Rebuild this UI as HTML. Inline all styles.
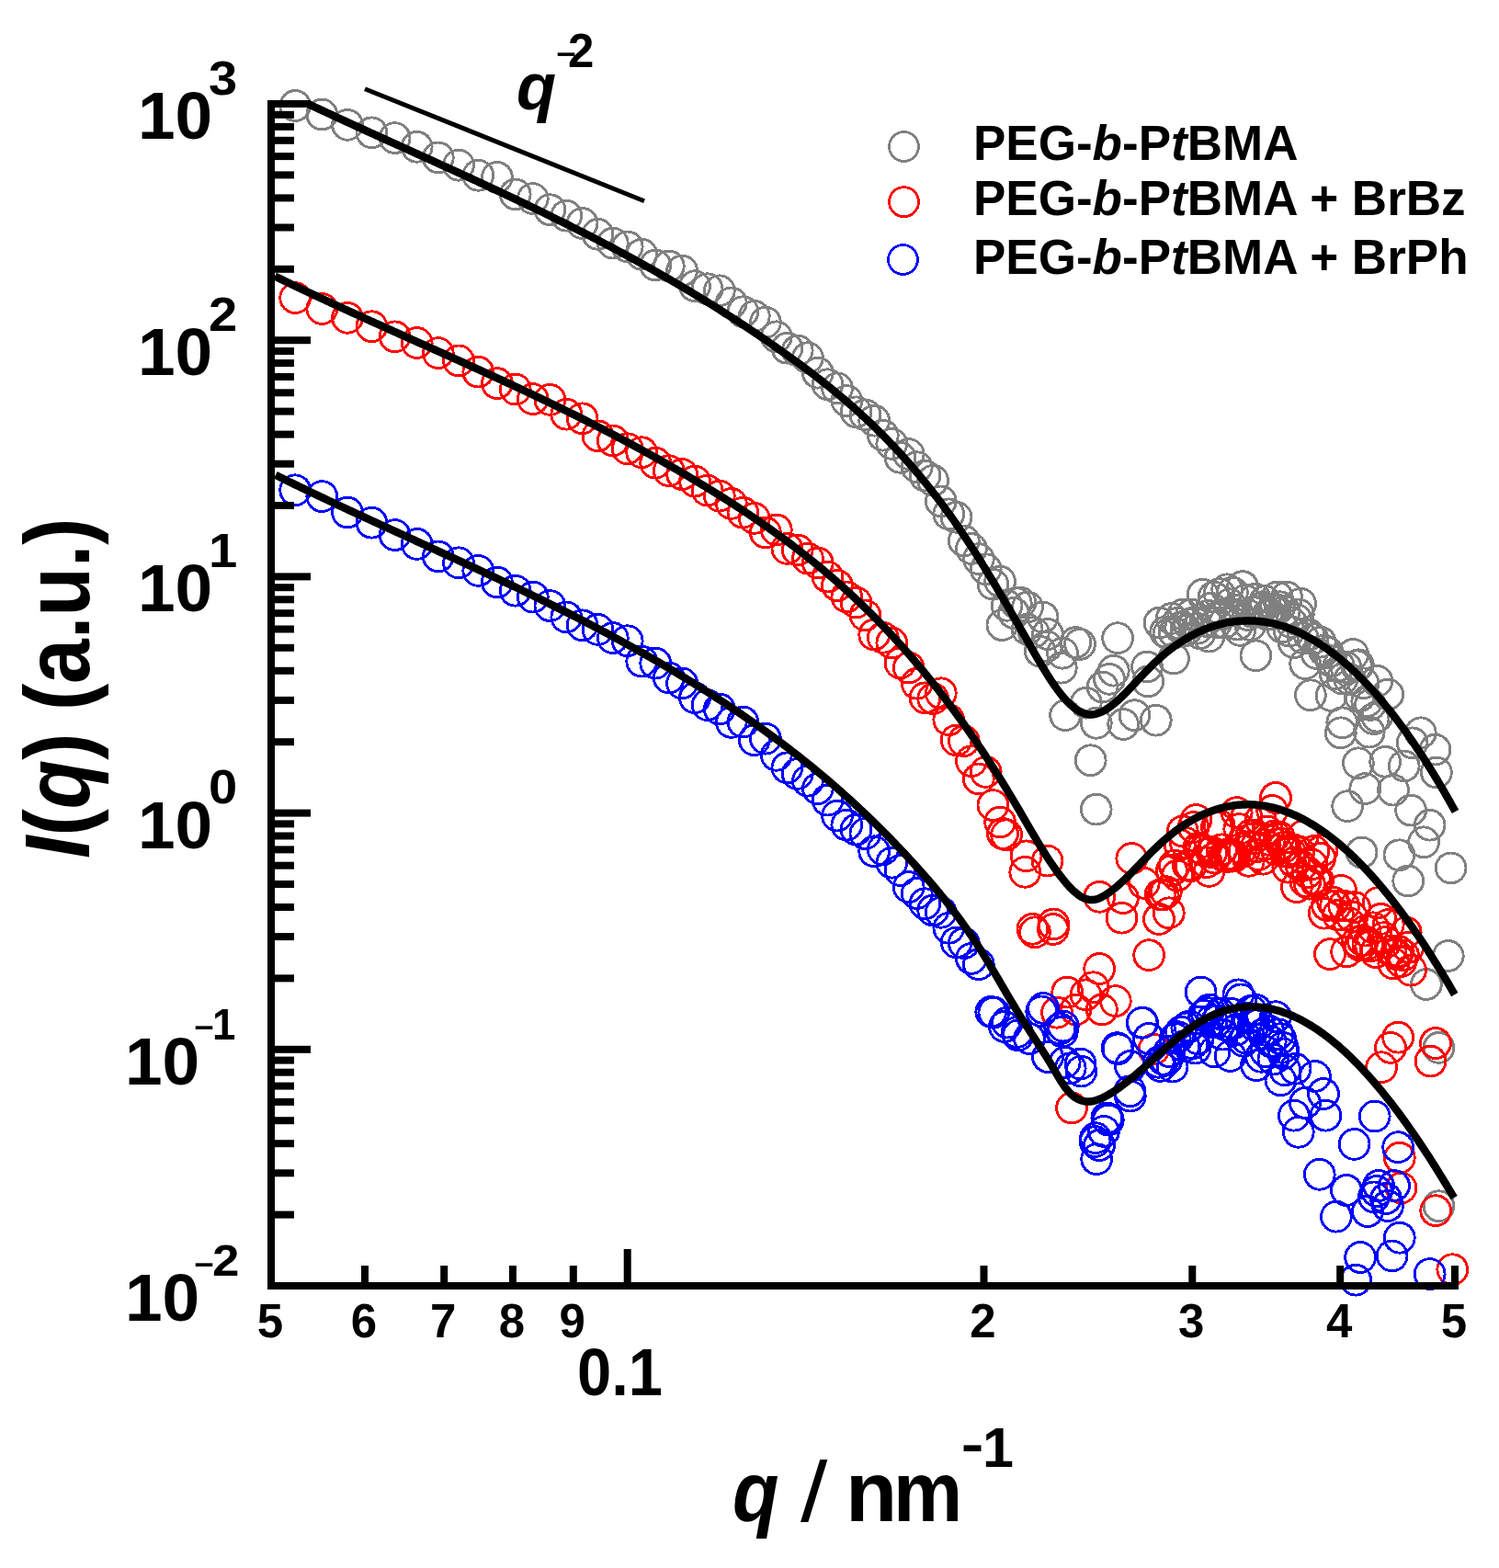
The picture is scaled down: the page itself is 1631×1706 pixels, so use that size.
<!DOCTYPE html>
<html><head><meta charset="utf-8"><title>SAXS plot</title>
<style>html,body{margin:0;padding:0;background:#fff;overflow:hidden}svg{display:block}</style>
</head><body>
<svg xmlns="http://www.w3.org/2000/svg" width="1631" height="1706" viewBox="0 0 1631 1706">
<rect width="1631" height="1706" fill="#fff"/>
<g fill="none" stroke="#808080" stroke-width="2.9" shape-rendering="crispEdges"><circle cx="321.2" cy="115.0" r="16.4"/><circle cx="350.3" cy="124.5" r="16.4"/><circle cx="378.0" cy="135.8" r="16.4"/><circle cx="404.4" cy="144.3" r="16.4"/><circle cx="429.6" cy="150.1" r="16.4"/><circle cx="453.7" cy="159.8" r="16.4"/><circle cx="476.8" cy="171.4" r="16.4"/><circle cx="499.0" cy="179.7" r="16.4"/><circle cx="520.3" cy="190.8" r="16.4"/><circle cx="540.9" cy="192.9" r="16.4"/><circle cx="560.7" cy="211.4" r="16.4"/><circle cx="579.8" cy="216.1" r="16.4"/><circle cx="598.4" cy="228.2" r="16.4"/><circle cx="616.3" cy="234.7" r="16.4"/><circle cx="633.6" cy="243.0" r="16.4"/><circle cx="650.5" cy="254.8" r="16.4"/><circle cx="666.8" cy="264.6" r="16.4"/><circle cx="682.7" cy="268.4" r="16.4"/><circle cx="698.2" cy="276.7" r="16.4"/><circle cx="713.2" cy="288.5" r="16.4"/><circle cx="727.8" cy="289.5" r="16.4"/><circle cx="742.1" cy="294.5" r="16.4"/><circle cx="756.0" cy="311.2" r="16.4"/><circle cx="769.6" cy="314.2" r="16.4"/><circle cx="782.8" cy="316.3" r="16.4"/><circle cx="795.8" cy="329.4" r="16.4"/><circle cx="808.4" cy="339.2" r="16.4"/><circle cx="820.8" cy="343.9" r="16.4"/><circle cx="832.9" cy="350.7" r="16.4"/><circle cx="844.8" cy="366.3" r="16.4"/><circle cx="856.4" cy="378.7" r="16.4"/><circle cx="867.7" cy="381.4" r="16.4"/><circle cx="878.9" cy="389.2" r="16.4"/><circle cx="889.8" cy="405.7" r="16.4"/><circle cx="900.5" cy="418.2" r="16.4"/><circle cx="911.0" cy="422.3" r="16.4"/><circle cx="921.3" cy="436.1" r="16.4"/><circle cx="931.5" cy="448.3" r="16.4"/><circle cx="941.4" cy="451.3" r="16.4"/><circle cx="951.2" cy="457.7" r="16.4"/><circle cx="960.8" cy="473.7" r="16.4"/><circle cx="970.3" cy="482.9" r="16.4"/><circle cx="979.5" cy="497.8" r="16.4"/><circle cx="988.7" cy="494.1" r="16.4"/><circle cx="997.7" cy="508.2" r="16.4"/><circle cx="1006.5" cy="517.6" r="16.4"/><circle cx="1015.2" cy="522.8" r="16.4"/><circle cx="1023.8" cy="545.4" r="16.4"/><circle cx="1032.3" cy="559.3" r="16.4"/><circle cx="1040.6" cy="562.8" r="16.4"/><circle cx="1048.8" cy="588.4" r="16.4"/><circle cx="1056.9" cy="597.0" r="16.4"/><circle cx="1064.8" cy="608.1" r="16.4"/><circle cx="1072.7" cy="619.2" r="16.4"/><circle cx="1080.4" cy="635.6" r="16.4"/><circle cx="1088.1" cy="632.6" r="16.4"/><circle cx="1095.6" cy="658.8" r="16.4"/><circle cx="1103.0" cy="667.0" r="16.4"/><circle cx="1110.4" cy="655.6" r="16.4"/><circle cx="1117.6" cy="684.6" r="16.4"/><circle cx="1124.8" cy="688.1" r="16.4"/><circle cx="1131.8" cy="708.7" r="16.4"/><circle cx="1138.8" cy="703.2" r="16.4"/><circle cx="1268.2" cy="687.6" r="16.4"/><circle cx="1271.4" cy="689.8" r="16.4"/><circle cx="1274.6" cy="672.9" r="16.4"/><circle cx="1277.8" cy="688.5" r="16.4"/><circle cx="1281.0" cy="677.9" r="16.4"/><circle cx="1284.1" cy="683.0" r="16.4"/><circle cx="1287.3" cy="668.5" r="16.4"/><circle cx="1290.4" cy="686.1" r="16.4"/><circle cx="1293.5" cy="679.1" r="16.4"/><circle cx="1296.6" cy="668.4" r="16.4"/><circle cx="1299.6" cy="677.2" r="16.4"/><circle cx="1302.7" cy="683.8" r="16.4"/><circle cx="1305.7" cy="689.2" r="16.4"/><circle cx="1308.7" cy="646.8" r="16.4"/><circle cx="1311.7" cy="675.9" r="16.4"/><circle cx="1314.7" cy="669.7" r="16.4"/><circle cx="1317.7" cy="661.7" r="16.4"/><circle cx="1320.6" cy="649.5" r="16.4"/><circle cx="1323.6" cy="677.4" r="16.4"/><circle cx="1326.5" cy="646.0" r="16.4"/><circle cx="1329.4" cy="668.6" r="16.4"/><circle cx="1332.3" cy="677.6" r="16.4"/><circle cx="1335.2" cy="641.3" r="16.4"/><circle cx="1338.0" cy="657.3" r="16.4"/><circle cx="1340.9" cy="644.6" r="16.4"/><circle cx="1343.7" cy="663.9" r="16.4"/><circle cx="1346.5" cy="679.6" r="16.4"/><circle cx="1349.3" cy="685.9" r="16.4"/><circle cx="1352.1" cy="638.1" r="16.4"/><circle cx="1354.9" cy="653.0" r="16.4"/><circle cx="1357.7" cy="669.0" r="16.4"/><circle cx="1360.4" cy="680.0" r="16.4"/><circle cx="1363.2" cy="666.0" r="16.4"/><circle cx="1365.9" cy="651.7" r="16.4"/><circle cx="1368.6" cy="665.5" r="16.4"/><circle cx="1371.3" cy="662.0" r="16.4"/><circle cx="1374.0" cy="660.2" r="16.4"/><circle cx="1376.6" cy="654.0" r="16.4"/><circle cx="1379.3" cy="668.8" r="16.4"/><circle cx="1381.9" cy="668.3" r="16.4"/><circle cx="1384.6" cy="663.7" r="16.4"/><circle cx="1387.2" cy="662.6" r="16.4"/><circle cx="1389.8" cy="649.5" r="16.4"/><circle cx="1392.4" cy="660.2" r="16.4"/><circle cx="1395.0" cy="682.5" r="16.4"/><circle cx="1397.6" cy="665.1" r="16.4"/><circle cx="1400.1" cy="649.5" r="16.4"/><circle cx="1402.7" cy="686.5" r="16.4"/><circle cx="1405.2" cy="677.4" r="16.4"/><circle cx="1407.7" cy="699.1" r="16.4"/><circle cx="1410.2" cy="673.9" r="16.4"/><circle cx="1412.8" cy="668.4" r="16.4"/><circle cx="1415.2" cy="656.8" r="16.4"/><circle cx="1417.7" cy="694.1" r="16.4"/><circle cx="1420.2" cy="722.2" r="16.4"/><circle cx="1424.4" cy="690.7" r="16.4"/><circle cx="1428.5" cy="695.1" r="16.4"/><circle cx="1432.6" cy="711.0" r="16.4"/><circle cx="1436.7" cy="698.6" r="16.4"/><circle cx="1440.8" cy="707.7" r="16.4"/><circle cx="1444.8" cy="709.9" r="16.4"/><circle cx="1448.8" cy="719.3" r="16.4"/><circle cx="1452.8" cy="733.2" r="16.4"/><circle cx="1456.7" cy="724.2" r="16.4"/><circle cx="1460.6" cy="738.6" r="16.4"/><circle cx="1464.5" cy="726.1" r="16.4"/><circle cx="1468.4" cy="739.1" r="16.4"/><circle cx="1472.2" cy="711.9" r="16.4"/><circle cx="1476.0" cy="724.3" r="16.4"/><circle cx="1479.8" cy="757.2" r="16.4"/><circle cx="1483.5" cy="743.3" r="16.4"/><circle cx="1487.3" cy="763.0" r="16.4"/><circle cx="1491.0" cy="766.9" r="16.4"/><circle cx="1494.6" cy="782.1" r="16.4"/><circle cx="1498.3" cy="779.7" r="16.4"/><circle cx="1090.4" cy="680.1" r="16.4"/><circle cx="1105.8" cy="656.2" r="16.4"/><circle cx="1118.0" cy="660.5" r="16.4"/><circle cx="1134.6" cy="671.5" r="16.4"/><circle cx="1156.0" cy="710.7" r="16.4"/><circle cx="1154.8" cy="726.7" r="16.4"/><circle cx="1175.0" cy="700.9" r="16.4"/><circle cx="1216.1" cy="694.2" r="16.4"/><circle cx="1211.8" cy="729.7" r="16.4"/><circle cx="1248.0" cy="725.5" r="16.4"/><circle cx="1261.5" cy="677.6" r="16.4"/><circle cx="1181.8" cy="764.7" r="16.4"/><circle cx="1199.6" cy="747.5" r="16.4"/><circle cx="1159.1" cy="778.2" r="16.4"/><circle cx="1192.8" cy="786.8" r="16.4"/><circle cx="1222.2" cy="788.0" r="16.4"/><circle cx="1257.8" cy="783.7" r="16.4"/><circle cx="1234.5" cy="778.2" r="16.4"/><circle cx="1249.2" cy="741.4" r="16.4"/><circle cx="1186.7" cy="827.2" r="16.4"/><circle cx="1192.7" cy="880.6" r="16.4"/><circle cx="1140.0" cy="690.0" r="16.4"/><circle cx="1170.3" cy="699.0" r="16.4"/><circle cx="1207.0" cy="738.8" r="16.4"/><circle cx="1277.0" cy="716.5" r="16.4"/><circle cx="1366.4" cy="713.3" r="16.4"/><circle cx="1315.4" cy="692.6" r="16.4"/><circle cx="1425.9" cy="756.3" r="16.4"/><circle cx="1477.9" cy="723.3" r="16.4"/><circle cx="1498.5" cy="740.9" r="16.4"/><circle cx="1510.2" cy="755.5" r="16.4"/><circle cx="1460.3" cy="786.3" r="16.4"/><circle cx="1489.7" cy="796.6" r="16.4"/><circle cx="1477.9" cy="830.3" r="16.4"/><circle cx="1507.2" cy="828.8" r="16.4"/><circle cx="1561.5" cy="815.6" r="16.4"/><circle cx="1562.9" cy="840.5" r="16.4"/><circle cx="1466.2" cy="877.2" r="16.4"/><circle cx="1485.3" cy="858.1" r="16.4"/><circle cx="1516.0" cy="859.6" r="16.4"/><circle cx="1535.1" cy="881.6" r="16.4"/><circle cx="1555.6" cy="897.7" r="16.4"/><circle cx="1536.6" cy="808.3" r="16.4"/><circle cx="1448.6" cy="757.0" r="16.4"/><circle cx="1527.7" cy="833.4" r="16.4"/><circle cx="1545.8" cy="797.3" r="16.4"/><circle cx="1458.8" cy="797.3" r="16.4"/><circle cx="1481.6" cy="927.5" r="16.4"/><circle cx="1522.4" cy="930.3" r="16.4"/><circle cx="1549.1" cy="916.3" r="16.4"/><circle cx="1578.6" cy="944.4" r="16.4"/><circle cx="1532.2" cy="958.5" r="16.4"/><circle cx="1575.8" cy="1040.0" r="16.4"/><circle cx="1551.9" cy="1071.0" r="16.4"/><circle cx="1565.5" cy="1139.9" r="16.4"/><circle cx="1565.5" cy="1312.2" r="16.4"/></g><g fill="none" stroke="#ff0000" stroke-width="2.9" shape-rendering="crispEdges"><circle cx="321.2" cy="324.1" r="16.4"/><circle cx="350.3" cy="336.0" r="16.4"/><circle cx="378.0" cy="345.8" r="16.4"/><circle cx="404.4" cy="355.2" r="16.4"/><circle cx="429.6" cy="366.3" r="16.4"/><circle cx="453.7" cy="373.0" r="16.4"/><circle cx="476.8" cy="384.1" r="16.4"/><circle cx="499.0" cy="392.4" r="16.4"/><circle cx="520.3" cy="404.6" r="16.4"/><circle cx="540.9" cy="417.1" r="16.4"/><circle cx="560.7" cy="423.5" r="16.4"/><circle cx="579.8" cy="434.1" r="16.4"/><circle cx="598.4" cy="434.9" r="16.4"/><circle cx="616.3" cy="450.7" r="16.4"/><circle cx="633.6" cy="455.3" r="16.4"/><circle cx="650.5" cy="474.3" r="16.4"/><circle cx="666.8" cy="479.4" r="16.4"/><circle cx="682.7" cy="488.2" r="16.4"/><circle cx="698.2" cy="492.2" r="16.4"/><circle cx="713.2" cy="503.7" r="16.4"/><circle cx="727.8" cy="512.2" r="16.4"/><circle cx="742.1" cy="516.0" r="16.4"/><circle cx="756.0" cy="523.6" r="16.4"/><circle cx="769.6" cy="533.6" r="16.4"/><circle cx="782.8" cy="539.6" r="16.4"/><circle cx="795.8" cy="547.9" r="16.4"/><circle cx="808.4" cy="557.7" r="16.4"/><circle cx="820.8" cy="563.9" r="16.4"/><circle cx="832.9" cy="579.5" r="16.4"/><circle cx="844.8" cy="576.5" r="16.4"/><circle cx="856.4" cy="596.9" r="16.4"/><circle cx="867.7" cy="598.4" r="16.4"/><circle cx="878.9" cy="607.6" r="16.4"/><circle cx="889.8" cy="612.5" r="16.4"/><circle cx="900.5" cy="627.6" r="16.4"/><circle cx="911.0" cy="637.0" r="16.4"/><circle cx="921.3" cy="649.4" r="16.4"/><circle cx="931.5" cy="655.5" r="16.4"/><circle cx="941.4" cy="669.4" r="16.4"/><circle cx="951.2" cy="690.5" r="16.4"/><circle cx="960.8" cy="693.8" r="16.4"/><circle cx="970.3" cy="699.5" r="16.4"/><circle cx="979.5" cy="721.5" r="16.4"/><circle cx="988.7" cy="726.5" r="16.4"/><circle cx="997.7" cy="743.7" r="16.4"/><circle cx="1006.5" cy="759.3" r="16.4"/><circle cx="1015.2" cy="760.1" r="16.4"/><circle cx="1023.8" cy="754.3" r="16.4"/><circle cx="1032.3" cy="783.3" r="16.4"/><circle cx="1040.6" cy="805.4" r="16.4"/><circle cx="1048.8" cy="806.1" r="16.4"/><circle cx="1056.9" cy="828.2" r="16.4"/><circle cx="1064.8" cy="847.4" r="16.4"/><circle cx="1072.7" cy="839.9" r="16.4"/><circle cx="1080.4" cy="876.1" r="16.4"/><circle cx="1088.1" cy="894.5" r="16.4"/><circle cx="1262.6" cy="973.4" r="16.4"/><circle cx="1265.7" cy="973.4" r="16.4"/><circle cx="1268.8" cy="970.2" r="16.4"/><circle cx="1271.8" cy="993.3" r="16.4"/><circle cx="1274.9" cy="947.1" r="16.4"/><circle cx="1277.9" cy="941.5" r="16.4"/><circle cx="1280.9" cy="952.6" r="16.4"/><circle cx="1283.8" cy="919.2" r="16.4"/><circle cx="1286.8" cy="904.3" r="16.4"/><circle cx="1289.8" cy="916.8" r="16.4"/><circle cx="1292.7" cy="941.5" r="16.4"/><circle cx="1295.6" cy="942.3" r="16.4"/><circle cx="1298.5" cy="900.1" r="16.4"/><circle cx="1301.4" cy="892.0" r="16.4"/><circle cx="1304.3" cy="922.5" r="16.4"/><circle cx="1307.1" cy="923.8" r="16.4"/><circle cx="1310.0" cy="925.4" r="16.4"/><circle cx="1312.8" cy="938.3" r="16.4"/><circle cx="1315.6" cy="947.9" r="16.4"/><circle cx="1318.4" cy="927.2" r="16.4"/><circle cx="1321.2" cy="933.6" r="16.4"/><circle cx="1324.0" cy="900.1" r="16.4"/><circle cx="1326.7" cy="898.0" r="16.4"/><circle cx="1329.5" cy="924.3" r="16.4"/><circle cx="1332.2" cy="931.7" r="16.4"/><circle cx="1334.9" cy="932.1" r="16.4"/><circle cx="1337.6" cy="928.9" r="16.4"/><circle cx="1340.3" cy="931.7" r="16.4"/><circle cx="1343.0" cy="931.5" r="16.4"/><circle cx="1345.7" cy="884.1" r="16.4"/><circle cx="1348.3" cy="902.1" r="16.4"/><circle cx="1350.9" cy="923.3" r="16.4"/><circle cx="1353.6" cy="926.1" r="16.4"/><circle cx="1356.2" cy="888.6" r="16.4"/><circle cx="1358.8" cy="936.8" r="16.4"/><circle cx="1361.4" cy="908.4" r="16.4"/><circle cx="1364.0" cy="912.3" r="16.4"/><circle cx="1366.5" cy="921.5" r="16.4"/><circle cx="1369.1" cy="930.1" r="16.4"/><circle cx="1371.6" cy="892.1" r="16.4"/><circle cx="1374.2" cy="934.7" r="16.4"/><circle cx="1376.7" cy="919.0" r="16.4"/><circle cx="1379.2" cy="904.5" r="16.4"/><circle cx="1381.7" cy="913.9" r="16.4"/><circle cx="1384.2" cy="882.0" r="16.4"/><circle cx="1386.7" cy="909.5" r="16.4"/><circle cx="1389.1" cy="924.8" r="16.4"/><circle cx="1391.6" cy="910.5" r="16.4"/><circle cx="1394.0" cy="918.0" r="16.4"/><circle cx="1396.5" cy="922.1" r="16.4"/><circle cx="1398.9" cy="926.4" r="16.4"/><circle cx="1401.3" cy="943.7" r="16.4"/><circle cx="1403.7" cy="927.1" r="16.4"/><circle cx="1406.1" cy="924.1" r="16.4"/><circle cx="1408.5" cy="938.4" r="16.4"/><circle cx="1410.9" cy="965.1" r="16.4"/><circle cx="1413.2" cy="926.5" r="16.4"/><circle cx="1415.6" cy="942.2" r="16.4"/><circle cx="1417.9" cy="909.3" r="16.4"/><circle cx="1420.3" cy="959.0" r="16.4"/><circle cx="1422.6" cy="949.2" r="16.4"/><circle cx="1424.9" cy="961.7" r="16.4"/><circle cx="1427.2" cy="940.5" r="16.4"/><circle cx="1429.5" cy="926.1" r="16.4"/><circle cx="1431.8" cy="958.9" r="16.4"/><circle cx="1434.0" cy="958.2" r="16.4"/><circle cx="1436.3" cy="933.6" r="16.4"/><circle cx="1438.6" cy="925.4" r="16.4"/><circle cx="1440.8" cy="993.7" r="16.4"/><circle cx="1443.9" cy="984.9" r="16.4"/><circle cx="1447.0" cy="1038.1" r="16.4"/><circle cx="1450.1" cy="981.6" r="16.4"/><circle cx="1453.1" cy="985.5" r="16.4"/><circle cx="1456.1" cy="995.5" r="16.4"/><circle cx="1459.2" cy="968.9" r="16.4"/><circle cx="1462.2" cy="985.6" r="16.4"/><circle cx="1465.1" cy="1035.5" r="16.4"/><circle cx="1468.1" cy="1004.4" r="16.4"/><circle cx="1471.1" cy="997.6" r="16.4"/><circle cx="1474.0" cy="987.1" r="16.4"/><circle cx="1476.9" cy="1024.9" r="16.4"/><circle cx="1479.8" cy="1028.7" r="16.4"/><circle cx="1482.7" cy="1023.2" r="16.4"/><circle cx="1485.6" cy="1012.6" r="16.4"/><circle cx="1488.4" cy="1027.0" r="16.4"/><circle cx="1491.3" cy="1029.4" r="16.4"/><circle cx="1494.1" cy="1009.3" r="16.4"/><circle cx="1496.9" cy="1036.0" r="16.4"/><circle cx="1499.7" cy="982.1" r="16.4"/><circle cx="1502.5" cy="999.9" r="16.4"/><circle cx="1505.3" cy="1020.2" r="16.4"/><circle cx="1508.1" cy="1024.9" r="16.4"/><circle cx="1510.8" cy="1005.9" r="16.4"/><circle cx="1513.6" cy="1034.6" r="16.4"/><circle cx="1516.3" cy="1048.5" r="16.4"/><circle cx="1519.0" cy="1038.2" r="16.4"/><circle cx="1521.7" cy="1034.9" r="16.4"/><circle cx="1524.4" cy="1046.1" r="16.4"/><circle cx="1527.0" cy="1039.4" r="16.4"/><circle cx="1529.7" cy="1014.4" r="16.4"/><circle cx="1532.3" cy="1030.9" r="16.4"/><circle cx="1535.0" cy="1055.7" r="16.4"/><circle cx="1091.0" cy="907.0" r="16.4"/><circle cx="1095.1" cy="908.3" r="16.4"/><circle cx="1116.6" cy="931.3" r="16.4"/><circle cx="1115.3" cy="948.8" r="16.4"/><circle cx="1139.6" cy="936.6" r="16.4"/><circle cx="1123.4" cy="1010.8" r="16.4"/><circle cx="1146.3" cy="1005.4" r="16.4"/><circle cx="1196.2" cy="975.8" r="16.4"/><circle cx="1231.3" cy="934.0" r="16.4"/><circle cx="1220.5" cy="998.7" r="16.4"/><circle cx="1261.0" cy="1000.0" r="16.4"/><circle cx="1250.2" cy="1039.2" r="16.4"/><circle cx="1196.2" cy="1054.0" r="16.4"/><circle cx="1161.2" cy="1079.6" r="16.4"/><circle cx="1181.4" cy="1082.3" r="16.4"/><circle cx="1213.8" cy="1089.1" r="16.4"/><circle cx="1189.5" cy="1074.2" r="16.4"/><circle cx="1170.6" cy="1098.5" r="16.4"/><circle cx="1198.9" cy="1098.5" r="16.4"/><circle cx="1150.0" cy="1101.7" r="16.4"/><circle cx="1166.0" cy="1205.4" r="16.4"/><circle cx="1255.4" cy="1141.6" r="16.4"/><circle cx="1244.8" cy="960.9" r="16.4"/><circle cx="1221.9" cy="977.1" r="16.4"/><circle cx="1126.0" cy="1014.3" r="16.4"/><circle cx="1145.9" cy="1011.0" r="16.4"/><circle cx="1388.0" cy="868.0" r="16.4"/><circle cx="1513.0" cy="1139.9" r="16.4"/><circle cx="1503.1" cy="1161.2" r="16.4"/><circle cx="1556.5" cy="1154.6" r="16.4"/><circle cx="1562.0" cy="1135.0" r="16.4"/><circle cx="1522.8" cy="1259.7" r="16.4"/><circle cx="1524.5" cy="1292.5" r="16.4"/><circle cx="1562.2" cy="1317.2" r="16.4"/><circle cx="1580.3" cy="1381.2" r="16.4"/><circle cx="1521.2" cy="1128.7" r="16.4"/></g><g fill="none" stroke="#0000ff" stroke-width="2.9" shape-rendering="crispEdges"><circle cx="321.2" cy="533.3" r="16.4"/><circle cx="350.3" cy="540.1" r="16.4"/><circle cx="378.0" cy="557.5" r="16.4"/><circle cx="404.4" cy="568.7" r="16.4"/><circle cx="429.6" cy="582.1" r="16.4"/><circle cx="453.7" cy="591.9" r="16.4"/><circle cx="476.8" cy="605.4" r="16.4"/><circle cx="499.0" cy="612.3" r="16.4"/><circle cx="520.3" cy="620.9" r="16.4"/><circle cx="540.9" cy="633.5" r="16.4"/><circle cx="560.7" cy="642.7" r="16.4"/><circle cx="579.8" cy="649.6" r="16.4"/><circle cx="598.4" cy="659.1" r="16.4"/><circle cx="616.3" cy="671.4" r="16.4"/><circle cx="633.6" cy="680.3" r="16.4"/><circle cx="650.5" cy="684.9" r="16.4"/><circle cx="666.8" cy="694.1" r="16.4"/><circle cx="682.7" cy="697.2" r="16.4"/><circle cx="698.2" cy="719.6" r="16.4"/><circle cx="713.2" cy="721.6" r="16.4"/><circle cx="727.8" cy="737.5" r="16.4"/><circle cx="742.1" cy="743.4" r="16.4"/><circle cx="756.0" cy="759.2" r="16.4"/><circle cx="769.6" cy="767.1" r="16.4"/><circle cx="782.8" cy="771.5" r="16.4"/><circle cx="795.8" cy="785.9" r="16.4"/><circle cx="808.4" cy="785.5" r="16.4"/><circle cx="820.8" cy="805.2" r="16.4"/><circle cx="832.9" cy="803.7" r="16.4"/><circle cx="844.8" cy="821.8" r="16.4"/><circle cx="856.4" cy="835.3" r="16.4"/><circle cx="867.7" cy="841.9" r="16.4"/><circle cx="878.9" cy="849.7" r="16.4"/><circle cx="889.8" cy="858.1" r="16.4"/><circle cx="900.5" cy="870.6" r="16.4"/><circle cx="911.0" cy="887.6" r="16.4"/><circle cx="921.3" cy="897.6" r="16.4"/><circle cx="931.5" cy="902.6" r="16.4"/><circle cx="941.4" cy="907.1" r="16.4"/><circle cx="951.2" cy="926.3" r="16.4"/><circle cx="960.8" cy="924.3" r="16.4"/><circle cx="970.3" cy="938.7" r="16.4"/><circle cx="979.5" cy="947.0" r="16.4"/><circle cx="988.7" cy="965.1" r="16.4"/><circle cx="997.7" cy="972.0" r="16.4"/><circle cx="1006.5" cy="983.2" r="16.4"/><circle cx="1015.2" cy="990.5" r="16.4"/><circle cx="1023.8" cy="992.8" r="16.4"/><circle cx="1032.3" cy="1009.8" r="16.4"/><circle cx="1040.6" cy="1025.4" r="16.4"/><circle cx="1048.8" cy="1026.2" r="16.4"/><circle cx="1056.9" cy="1042.9" r="16.4"/><circle cx="1064.8" cy="1049.2" r="16.4"/><circle cx="1262.6" cy="1160.0" r="16.4"/><circle cx="1265.9" cy="1152.8" r="16.4"/><circle cx="1269.1" cy="1153.7" r="16.4"/><circle cx="1272.4" cy="1144.1" r="16.4"/><circle cx="1275.6" cy="1160.6" r="16.4"/><circle cx="1278.7" cy="1129.8" r="16.4"/><circle cx="1281.9" cy="1128.2" r="16.4"/><circle cx="1285.1" cy="1122.5" r="16.4"/><circle cx="1288.2" cy="1138.4" r="16.4"/><circle cx="1291.3" cy="1118.4" r="16.4"/><circle cx="1294.4" cy="1116.4" r="16.4"/><circle cx="1297.5" cy="1135.4" r="16.4"/><circle cx="1300.5" cy="1140.6" r="16.4"/><circle cx="1303.6" cy="1130.4" r="16.4"/><circle cx="1306.6" cy="1079.5" r="16.4"/><circle cx="1309.6" cy="1104.7" r="16.4"/><circle cx="1312.6" cy="1101.7" r="16.4"/><circle cx="1315.6" cy="1098.6" r="16.4"/><circle cx="1318.6" cy="1110.2" r="16.4"/><circle cx="1321.5" cy="1144.5" r="16.4"/><circle cx="1324.4" cy="1110.5" r="16.4"/><circle cx="1327.4" cy="1103.1" r="16.4"/><circle cx="1330.3" cy="1125.6" r="16.4"/><circle cx="1333.2" cy="1115.2" r="16.4"/><circle cx="1336.0" cy="1115.8" r="16.4"/><circle cx="1338.9" cy="1102.6" r="16.4"/><circle cx="1341.7" cy="1113.6" r="16.4"/><circle cx="1344.6" cy="1120.8" r="16.4"/><circle cx="1347.4" cy="1082.3" r="16.4"/><circle cx="1350.2" cy="1087.4" r="16.4"/><circle cx="1353.0" cy="1132.7" r="16.4"/><circle cx="1355.7" cy="1129.5" r="16.4"/><circle cx="1358.5" cy="1107.7" r="16.4"/><circle cx="1361.2" cy="1099.9" r="16.4"/><circle cx="1364.0" cy="1114.9" r="16.4"/><circle cx="1366.7" cy="1098.8" r="16.4"/><circle cx="1369.4" cy="1114.4" r="16.4"/><circle cx="1372.1" cy="1149.8" r="16.4"/><circle cx="1374.8" cy="1124.9" r="16.4"/><circle cx="1377.4" cy="1144.2" r="16.4"/><circle cx="1380.1" cy="1121.4" r="16.4"/><circle cx="1382.7" cy="1133.2" r="16.4"/><circle cx="1385.4" cy="1152.6" r="16.4"/><circle cx="1388.0" cy="1106.2" r="16.4"/><circle cx="1390.6" cy="1125.2" r="16.4"/><circle cx="1393.2" cy="1130.2" r="16.4"/><circle cx="1395.8" cy="1139.8" r="16.4"/><circle cx="1398.3" cy="1164.4" r="16.4"/><circle cx="1081.3" cy="1101.5" r="16.4"/><circle cx="1092.9" cy="1117.0" r="16.4"/><circle cx="1106.7" cy="1123.0" r="16.4"/><circle cx="1133.2" cy="1100.4" r="16.4"/><circle cx="1155.8" cy="1122.5" r="16.4"/><circle cx="1164.7" cy="1162.2" r="16.4"/><circle cx="1216.5" cy="1141.3" r="16.4"/><circle cx="1078.3" cy="1100.9" r="16.4"/><circle cx="1096.0" cy="1112.6" r="16.4"/><circle cx="1107.7" cy="1126.4" r="16.4"/><circle cx="1135.2" cy="1097.0" r="16.4"/><circle cx="1156.8" cy="1116.6" r="16.4"/><circle cx="1158.7" cy="1155.8" r="16.4"/><circle cx="1176.4" cy="1165.6" r="16.4"/><circle cx="1215.6" cy="1140.1" r="16.4"/><circle cx="1243.1" cy="1112.6" r="16.4"/><circle cx="1260.7" cy="1155.8" r="16.4"/><circle cx="1229.4" cy="1187.2" r="16.4"/><circle cx="1205.8" cy="1218.6" r="16.4"/><circle cx="1192.1" cy="1238.2" r="16.4"/><circle cx="1196.0" cy="1246.0" r="16.4"/><circle cx="1153.3" cy="1119.3" r="16.4"/><circle cx="1175.6" cy="1157.5" r="16.4"/><circle cx="1242.6" cy="1112.9" r="16.4"/><circle cx="1229.8" cy="1192.6" r="16.4"/><circle cx="1204.3" cy="1216.5" r="16.4"/><circle cx="1191.6" cy="1242.0" r="16.4"/><circle cx="1193.2" cy="1261.2" r="16.4"/><circle cx="1201.0" cy="1230.9" r="16.4"/><circle cx="1120.0" cy="1130.0" r="16.4"/><circle cx="1140.0" cy="1150.0" r="16.4"/><circle cx="1230.0" cy="1160.0" r="16.4"/><circle cx="1250.0" cy="1130.0" r="16.4"/><circle cx="1396.4" cy="1146.4" r="16.4"/><circle cx="1409.6" cy="1162.8" r="16.4"/><circle cx="1430.9" cy="1171.0" r="16.4"/><circle cx="1407.9" cy="1213.7" r="16.4"/><circle cx="1442.4" cy="1213.7" r="16.4"/><circle cx="1412.8" cy="1231.8" r="16.4"/><circle cx="1495.7" cy="1214.5" r="16.4"/><circle cx="1473.6" cy="1244.9" r="16.4"/><circle cx="1521.2" cy="1248.2" r="16.4"/><circle cx="1435.8" cy="1277.8" r="16.4"/><circle cx="1465.0" cy="1295.0" r="16.4"/><circle cx="1494.9" cy="1302.4" r="16.4"/><circle cx="1508.0" cy="1304.0" r="16.4"/><circle cx="1500.0" cy="1290.0" r="16.4"/><circle cx="1453.9" cy="1323.7" r="16.4"/><circle cx="1522.8" cy="1346.7" r="16.4"/><circle cx="1514.6" cy="1366.4" r="16.4"/><circle cx="1480.1" cy="1368.0" r="16.4"/><circle cx="1475.2" cy="1392.7" r="16.4"/><circle cx="1555.7" cy="1386.1" r="16.4"/><circle cx="1338.6" cy="1149.0" r="16.4"/><circle cx="1367.0" cy="1159.1" r="16.4"/><circle cx="1393.4" cy="1175.4" r="16.4"/><circle cx="1498.0" cy="1296.0" r="16.4"/><circle cx="1510.0" cy="1312.0" r="16.4"/><circle cx="1488.0" cy="1318.0" r="16.4"/><circle cx="1517.0" cy="1290.0" r="16.4"/><circle cx="1440.0" cy="1190.0" r="16.4"/><circle cx="1420.0" cy="1200.0" r="16.4"/></g>
<path d="M334.0,112.5 L336.0,113.4 L338.0,114.4 L340.0,115.3 L342.0,116.2 L344.0,117.2 L346.0,118.1 L348.0,119.0 L350.0,120.0 L352.0,120.9 L354.0,121.8 L356.0,122.8 L358.0,123.7 L360.0,124.6 L362.0,125.5 L364.0,126.5 L366.0,127.4 L368.0,128.3 L370.0,129.2 L372.0,130.2 L374.0,131.1 L376.0,132.0 L378.0,132.9 L380.0,133.8 L382.0,134.7 L384.0,135.7 L386.0,136.6 L388.0,137.5 L390.0,138.4 L392.0,139.3 L394.0,140.2 L396.0,141.1 L398.0,142.1 L400.0,143.0 L402.0,143.9 L404.0,144.8 L406.0,145.7 L408.0,146.6 L410.0,147.5 L412.0,148.4 L414.0,149.3 L416.0,150.2 L418.0,151.1 L420.0,152.1 L422.0,153.0 L424.0,153.9 L426.0,154.8 L428.0,155.7 L430.0,156.6 L432.0,157.5 L434.0,158.4 L436.0,159.3 L438.0,160.2 L440.0,161.1 L442.0,162.0 L444.0,162.9 L446.0,163.8 L448.0,164.7 L450.0,165.7 L452.0,166.6 L454.0,167.5 L456.0,168.4 L458.0,169.3 L460.0,170.2 L462.0,171.1 L464.0,172.0 L466.0,172.9 L468.0,173.8 L470.0,174.7 L472.0,175.6 L474.0,176.5 L476.0,177.5 L478.0,178.4 L480.0,179.3 L482.0,180.2 L484.0,181.1 L486.0,182.0 L488.0,182.9 L490.0,183.8 L492.0,184.8 L494.0,185.7 L496.0,186.6 L498.0,187.5 L500.0,188.4 L502.0,189.3 L504.0,190.3 L506.0,191.2 L508.0,192.1 L510.0,193.0 L512.0,193.9 L514.0,194.9 L516.0,195.8 L518.0,196.7 L520.0,197.6 L522.0,198.6 L524.0,199.5 L526.0,200.4 L528.0,201.3 L530.0,202.3 L532.0,203.2 L534.0,204.1 L536.0,205.1 L538.0,206.0 L540.0,206.9 L542.0,207.9 L544.0,208.8 L546.0,209.8 L548.0,210.7 L550.0,211.6 L552.0,212.6 L554.0,213.5 L556.0,214.5 L558.0,215.4 L560.0,216.4 L562.0,217.3 L564.0,218.3 L566.0,219.2 L568.0,220.2 L570.0,221.1 L572.0,222.1 L574.0,223.1 L576.0,224.0 L578.0,225.0 L580.0,226.0 L582.0,226.9 L584.0,227.9 L586.0,228.9 L588.0,229.8 L590.0,230.8 L592.0,231.8 L594.0,232.8 L596.0,233.7 L598.0,234.7 L600.0,235.7 L602.0,236.7 L604.0,237.7 L606.0,238.7 L608.0,239.7 L610.0,240.7 L612.0,241.6 L614.0,242.6 L616.0,243.6 L618.0,244.6 L620.0,245.6 L622.0,246.7 L624.0,247.7 L626.0,248.7 L628.0,249.7 L630.0,250.7 L632.0,251.7 L634.0,252.7 L636.0,253.8 L638.0,254.8 L640.0,255.8 L642.0,256.8 L644.0,257.9 L646.0,258.9 L648.0,259.9 L650.0,261.0 L652.0,262.0 L654.0,263.1 L656.0,264.1 L658.0,265.2 L660.0,266.2 L662.0,267.3 L664.0,268.3 L666.0,269.4 L668.0,270.4 L670.0,271.5 L672.0,272.6 L674.0,273.7 L676.0,274.7 L678.0,275.8 L680.0,276.9 L682.0,278.0 L684.0,279.1 L686.0,280.1 L688.0,281.2 L690.0,282.3 L692.0,283.4 L694.0,284.5 L696.0,285.6 L698.0,286.7 L700.0,287.8 L702.0,289.0 L704.0,290.1 L706.0,291.2 L708.0,292.3 L710.0,293.4 L712.0,294.6 L714.0,295.7 L716.0,296.8 L718.0,298.0 L720.0,299.1 L722.0,300.3 L724.0,301.4 L726.0,302.6 L728.0,303.7 L730.0,304.9 L732.0,306.1 L734.0,307.2 L736.0,308.4 L738.0,309.6 L740.0,310.7 L742.0,311.9 L744.0,313.1 L746.0,314.3 L748.0,315.5 L750.0,316.7 L752.0,317.9 L754.0,319.1 L756.0,320.3 L758.0,321.5 L760.0,322.7 L762.0,323.9 L764.0,325.2 L766.0,326.4 L768.0,327.6 L770.0,328.9 L772.0,330.1 L774.0,331.3 L776.0,332.6 L778.0,333.8 L780.0,335.1 L782.0,336.3 L784.0,337.6 L786.0,338.9 L788.0,340.1 L790.0,341.4 L792.0,342.7 L794.0,344.0 L796.0,345.3 L798.0,346.6 L800.0,347.9 L802.0,349.2 L804.0,350.5 L806.0,351.8 L808.0,353.1 L810.0,354.4 L812.0,355.7 L814.0,357.1 L816.0,358.4 L818.0,359.7 L820.0,361.1 L822.0,362.4 L824.0,363.8 L826.0,365.1 L828.0,366.5 L830.0,367.9 L832.0,369.2 L834.0,370.6 L836.0,372.0 L838.0,373.4 L840.0,374.8 L842.0,376.2 L844.0,377.6 L846.0,379.0 L848.0,380.4 L850.0,381.8 L852.0,383.2 L854.0,384.6 L856.0,386.1 L858.0,387.5 L860.0,388.9 L862.0,390.4 L864.0,391.8 L866.0,393.3 L868.0,394.7 L870.0,396.2 L872.0,397.7 L874.0,399.2 L876.0,400.7 L878.0,402.2 L880.0,403.7 L882.0,405.2 L884.0,406.7 L886.0,408.2 L888.0,409.8 L890.0,411.3 L892.0,412.9 L894.0,414.5 L896.0,416.0 L898.0,417.6 L900.0,419.2 L902.0,420.8 L904.0,422.4 L906.0,424.1 L908.0,425.7 L910.0,427.4 L912.0,429.0 L914.0,430.7 L916.0,432.4 L918.0,434.1 L920.0,435.8 L922.0,437.5 L924.0,439.2 L926.0,441.0 L928.0,442.7 L930.0,444.5 L932.0,446.3 L934.0,448.1 L936.0,449.9 L938.0,451.8 L940.0,453.6 L942.0,455.5 L944.0,457.3 L946.0,459.2 L948.0,461.1 L950.0,463.1 L952.0,465.0 L954.0,466.9 L956.0,468.9 L958.0,470.9 L960.0,472.9 L962.0,474.9 L964.0,477.0 L966.0,479.0 L968.0,481.1 L970.0,483.2 L972.0,485.3 L974.0,487.4 L976.0,489.6 L978.0,491.7 L980.0,493.9 L982.0,496.1 L984.0,498.4 L986.0,500.6 L988.0,502.9 L990.0,505.1 L992.0,507.5 L994.0,509.8 L996.0,512.1 L998.0,514.5 L1000.0,516.9 L1002.0,519.3 L1004.0,521.7 L1006.0,524.2 L1008.0,526.7 L1010.0,529.2 L1012.0,531.7 L1014.0,534.2 L1016.0,536.8 L1018.0,539.4 L1020.0,542.0 L1022.0,544.6 L1024.0,547.3 L1026.0,550.0 L1028.0,552.7 L1030.0,555.5 L1032.0,558.2 L1034.0,561.0 L1036.0,563.8 L1038.0,566.7 L1040.0,569.5 L1042.0,572.4 L1044.0,575.3 L1046.0,578.3 L1048.0,581.3 L1050.0,584.3 L1052.0,587.3 L1054.0,590.3 L1056.0,593.4 L1058.0,596.5 L1060.0,599.6 L1062.0,602.8 L1064.0,605.9 L1066.0,609.1 L1068.0,612.3 L1070.0,615.6 L1072.0,618.8 L1074.0,622.1 L1076.0,625.4 L1078.0,628.7 L1080.0,632.0 L1082.0,635.3 L1084.0,638.7 L1086.0,642.1 L1088.0,645.4 L1090.0,648.8 L1092.0,652.2 L1094.0,655.7 L1096.0,659.1 L1098.0,662.5 L1100.0,666.0 L1102.0,669.4 L1104.0,672.9 L1106.0,676.4 L1108.0,679.9 L1110.0,683.4 L1112.0,686.9 L1114.0,690.4 L1116.0,693.9 L1118.0,697.4 L1120.0,700.9 L1122.0,704.4 L1124.0,707.9 L1126.0,711.4 L1128.0,714.9 L1130.0,718.3 L1132.0,721.7 L1134.0,725.1 L1136.0,728.4 L1138.0,731.6 L1140.0,734.8 L1142.0,737.9 L1144.0,741.0 L1146.0,744.0 L1148.0,746.8 L1150.0,749.6 L1152.0,752.3 L1154.0,754.9 L1156.0,757.4 L1158.0,759.7 L1160.0,761.9 L1162.0,764.0 L1164.0,766.0 L1166.0,767.8 L1168.0,769.4 L1170.0,771.0 L1172.0,772.4 L1174.0,773.6 L1176.0,774.6 L1178.0,775.5 L1180.0,776.3 L1182.0,776.8 L1184.0,777.2 L1186.0,777.4 L1188.0,777.4 L1190.0,777.2 L1192.0,776.9 L1194.0,776.3 L1196.0,775.6 L1198.0,774.8 L1200.0,773.9 L1202.0,772.8 L1204.0,771.6 L1206.0,770.2 L1208.0,768.8 L1210.0,767.3 L1212.0,765.7 L1214.0,764.1 L1216.0,762.3 L1218.0,760.5 L1220.0,758.6 L1222.0,756.7 L1224.0,754.7 L1226.0,752.7 L1228.0,750.6 L1230.0,748.5 L1232.0,746.4 L1234.0,744.3 L1236.0,742.2 L1238.0,740.0 L1240.0,737.9 L1242.0,735.7 L1244.0,733.6 L1246.0,731.5 L1248.0,729.4 L1250.0,727.4 L1252.0,725.4 L1254.0,723.4 L1256.0,721.5 L1258.0,719.6 L1260.0,717.8 L1262.0,716.0 L1264.0,714.2 L1266.0,712.5 L1268.0,710.8 L1270.0,709.2 L1272.0,707.6 L1274.0,706.1 L1276.0,704.6 L1278.0,703.1 L1280.0,701.7 L1282.0,700.3 L1284.0,699.0 L1286.0,697.7 L1288.0,696.4 L1290.0,695.2 L1292.0,694.0 L1294.0,692.8 L1296.0,691.7 L1298.0,690.7 L1300.0,689.6 L1302.0,688.6 L1304.0,687.7 L1306.0,686.8 L1308.0,685.9 L1310.0,685.0 L1312.0,684.2 L1314.0,683.5 L1316.0,682.7 L1318.0,682.0 L1320.0,681.4 L1322.0,680.7 L1324.0,680.2 L1326.0,679.6 L1328.0,679.1 L1330.0,678.6 L1332.0,678.1 L1334.0,677.7 L1336.0,677.3 L1338.0,677.0 L1340.0,676.7 L1342.0,676.4 L1344.0,676.1 L1346.0,675.9 L1348.0,675.7 L1350.0,675.6 L1352.0,675.5 L1354.0,675.4 L1356.0,675.4 L1358.0,675.3 L1360.0,675.4 L1362.0,675.4 L1364.0,675.5 L1366.0,675.6 L1368.0,675.8 L1370.0,676.0 L1372.0,676.2 L1374.0,676.4 L1376.0,676.7 L1378.0,677.0 L1380.0,677.4 L1382.0,677.8 L1384.0,678.2 L1386.0,678.6 L1388.0,679.1 L1390.0,679.6 L1392.0,680.2 L1394.0,680.8 L1396.0,681.4 L1398.0,682.0 L1400.0,682.7 L1402.0,683.4 L1404.0,684.2 L1406.0,685.0 L1408.0,685.8 L1410.0,686.6 L1412.0,687.5 L1414.0,688.4 L1416.0,689.4 L1418.0,690.4 L1420.0,691.4 L1422.0,692.4 L1424.0,693.5 L1426.0,694.6 L1428.0,695.7 L1430.0,696.9 L1432.0,698.1 L1434.0,699.4 L1436.0,700.6 L1438.0,702.0 L1440.0,703.3 L1442.0,704.7 L1444.0,706.1 L1446.0,707.5 L1448.0,709.0 L1450.0,710.5 L1452.0,712.0 L1454.0,713.6 L1456.0,715.2 L1458.0,716.8 L1460.0,718.5 L1462.0,720.2 L1464.0,721.9 L1466.0,723.7 L1468.0,725.5 L1470.0,727.3 L1472.0,729.1 L1474.0,731.0 L1476.0,732.9 L1478.0,734.9 L1480.0,736.9 L1482.0,738.9 L1484.0,741.0 L1486.0,743.0 L1488.0,745.2 L1490.0,747.3 L1492.0,749.5 L1494.0,751.7 L1496.0,753.9 L1498.0,756.2 L1500.0,758.5 L1502.0,760.8 L1504.0,763.2 L1506.0,765.6 L1508.0,768.1 L1510.0,770.5 L1512.0,773.0 L1514.0,775.5 L1516.0,778.1 L1518.0,780.7 L1520.0,783.3 L1522.0,786.0 L1524.0,788.7 L1526.0,791.4 L1528.0,794.1 L1530.0,796.9 L1532.0,799.7 L1534.0,802.6 L1536.0,805.5 L1538.0,808.4 L1540.0,811.3 L1542.0,814.3 L1544.0,817.3 L1546.0,820.3 L1548.0,823.4 L1550.0,826.5 L1552.0,829.6 L1554.0,832.8 L1556.0,836.0 L1558.0,839.2 L1560.0,842.4 L1562.0,845.7 L1564.0,849.0 L1566.0,852.4 L1568.0,855.8 L1570.0,859.2 L1572.0,862.6 L1574.0,866.1 L1576.0,869.6 L1578.0,873.1 L1580.0,876.7 L1582.0,880.3 L1583.5,883.0" fill="none" stroke="#000" stroke-width="8.5" stroke-linejoin="round"/><path d="M299.0,300.5 L301.0,301.5 L303.0,302.5 L305.0,303.4 L307.0,304.4 L309.0,305.4 L311.0,306.3 L313.0,307.3 L315.0,308.2 L317.0,309.2 L319.0,310.2 L321.0,311.1 L323.0,312.1 L325.0,313.0 L327.0,314.0 L329.0,314.9 L331.0,315.9 L333.0,316.8 L335.0,317.8 L337.0,318.7 L339.0,319.6 L341.0,320.6 L343.0,321.5 L345.0,322.4 L347.0,323.4 L349.0,324.3 L351.0,325.2 L353.0,326.2 L355.0,327.1 L357.0,328.0 L359.0,329.0 L361.0,329.9 L363.0,330.8 L365.0,331.7 L367.0,332.7 L369.0,333.6 L371.0,334.5 L373.0,335.4 L375.0,336.3 L377.0,337.2 L379.0,338.2 L381.0,339.1 L383.0,340.0 L385.0,340.9 L387.0,341.8 L389.0,342.7 L391.0,343.6 L393.0,344.5 L395.0,345.5 L397.0,346.4 L399.0,347.3 L401.0,348.2 L403.0,349.1 L405.0,350.0 L407.0,350.9 L409.0,351.8 L411.0,352.7 L413.0,353.6 L415.0,354.5 L417.0,355.4 L419.0,356.3 L421.0,357.2 L423.0,358.1 L425.0,359.0 L427.0,359.9 L429.0,360.8 L431.0,361.7 L433.0,362.6 L435.0,363.5 L437.0,364.4 L439.0,365.3 L441.0,366.2 L443.0,367.1 L445.0,368.0 L447.0,368.9 L449.0,369.8 L451.0,370.7 L453.0,371.6 L455.0,372.5 L457.0,373.4 L459.0,374.3 L461.0,375.1 L463.0,376.0 L465.0,376.9 L467.0,377.8 L469.0,378.7 L471.0,379.6 L473.0,380.5 L475.0,381.4 L477.0,382.3 L479.0,383.2 L481.0,384.1 L483.0,385.0 L485.0,385.9 L487.0,386.8 L489.0,387.7 L491.0,388.6 L493.0,389.5 L495.0,390.4 L497.0,391.3 L499.0,392.2 L501.0,393.1 L503.0,394.0 L505.0,394.9 L507.0,395.9 L509.0,396.8 L511.0,397.7 L513.0,398.6 L515.0,399.5 L517.0,400.4 L519.0,401.3 L521.0,402.2 L523.0,403.1 L525.0,404.0 L527.0,405.0 L529.0,405.9 L531.0,406.8 L533.0,407.7 L535.0,408.6 L537.0,409.5 L539.0,410.5 L541.0,411.4 L543.0,412.3 L545.0,413.2 L547.0,414.1 L549.0,415.1 L551.0,416.0 L553.0,416.9 L555.0,417.9 L557.0,418.8 L559.0,419.7 L561.0,420.7 L563.0,421.6 L565.0,422.5 L567.0,423.5 L569.0,424.4 L571.0,425.3 L573.0,426.3 L575.0,427.2 L577.0,428.2 L579.0,429.1 L581.0,430.1 L583.0,431.0 L585.0,432.0 L587.0,432.9 L589.0,433.9 L591.0,434.9 L593.0,435.8 L595.0,436.8 L597.0,437.7 L599.0,438.7 L601.0,439.7 L603.0,440.6 L605.0,441.6 L607.0,442.6 L609.0,443.6 L611.0,444.5 L613.0,445.5 L615.0,446.5 L617.0,447.5 L619.0,448.5 L621.0,449.5 L623.0,450.4 L625.0,451.4 L627.0,452.4 L629.0,453.4 L631.0,454.4 L633.0,455.4 L635.0,456.4 L637.0,457.4 L639.0,458.4 L641.0,459.5 L643.0,460.5 L645.0,461.5 L647.0,462.5 L649.0,463.5 L651.0,464.5 L653.0,465.6 L655.0,466.6 L657.0,467.6 L659.0,468.7 L661.0,469.7 L663.0,470.7 L665.0,471.8 L667.0,472.8 L669.0,473.9 L671.0,474.9 L673.0,476.0 L675.0,477.0 L677.0,478.1 L679.0,479.2 L681.0,480.2 L683.0,481.3 L685.0,482.4 L687.0,483.4 L689.0,484.5 L691.0,485.6 L693.0,486.7 L695.0,487.8 L697.0,488.9 L699.0,490.0 L701.0,491.1 L703.0,492.2 L705.0,493.3 L707.0,494.4 L709.0,495.5 L711.0,496.6 L713.0,497.7 L715.0,498.8 L717.0,499.9 L719.0,501.1 L721.0,502.2 L723.0,503.3 L725.0,504.5 L727.0,505.6 L729.0,506.8 L731.0,507.9 L733.0,509.1 L735.0,510.2 L737.0,511.4 L739.0,512.5 L741.0,513.7 L743.0,514.9 L745.0,516.0 L747.0,517.2 L749.0,518.4 L751.0,519.6 L753.0,520.8 L755.0,522.0 L757.0,523.2 L759.0,524.4 L761.0,525.6 L763.0,526.8 L765.0,528.0 L767.0,529.2 L769.0,530.4 L771.0,531.7 L773.0,532.9 L775.0,534.1 L777.0,535.4 L779.0,536.6 L781.0,537.9 L783.0,539.1 L785.0,540.4 L787.0,541.6 L789.0,542.9 L791.0,544.2 L793.0,545.4 L795.0,546.7 L797.0,548.0 L799.0,549.3 L801.0,550.6 L803.0,551.9 L805.0,553.2 L807.0,554.5 L809.0,555.8 L811.0,557.2 L813.0,558.5 L815.0,559.8 L817.0,561.2 L819.0,562.5 L821.0,563.9 L823.0,565.2 L825.0,566.6 L827.0,568.0 L829.0,569.4 L831.0,570.8 L833.0,572.2 L835.0,573.6 L837.0,575.0 L839.0,576.4 L841.0,577.8 L843.0,579.3 L845.0,580.7 L847.0,582.1 L849.0,583.6 L851.0,585.1 L853.0,586.5 L855.0,588.0 L857.0,589.5 L859.0,591.0 L861.0,592.5 L863.0,594.0 L865.0,595.6 L867.0,597.1 L869.0,598.6 L871.0,600.2 L873.0,601.8 L875.0,603.3 L877.0,604.9 L879.0,606.5 L881.0,608.1 L883.0,609.7 L885.0,611.3 L887.0,613.0 L889.0,614.6 L891.0,616.3 L893.0,617.9 L895.0,619.6 L897.0,621.3 L899.0,623.0 L901.0,624.7 L903.0,626.4 L905.0,628.1 L907.0,629.8 L909.0,631.6 L911.0,633.3 L913.0,635.1 L915.0,636.9 L917.0,638.7 L919.0,640.5 L921.0,642.3 L923.0,644.1 L925.0,646.0 L927.0,647.8 L929.0,649.7 L931.0,651.6 L933.0,653.5 L935.0,655.4 L937.0,657.3 L939.0,659.2 L941.0,661.2 L943.0,663.1 L945.0,665.1 L947.0,667.1 L949.0,669.1 L951.0,671.1 L953.0,673.1 L955.0,675.1 L957.0,677.2 L959.0,679.3 L961.0,681.3 L963.0,683.4 L965.0,685.5 L967.0,687.6 L969.0,689.8 L971.0,691.9 L973.0,694.1 L975.0,696.3 L977.0,698.5 L979.0,700.7 L981.0,702.9 L983.0,705.1 L985.0,707.4 L987.0,709.7 L989.0,712.0 L991.0,714.3 L993.0,716.6 L995.0,718.9 L997.0,721.3 L999.0,723.6 L1001.0,726.0 L1003.0,728.4 L1005.0,730.8 L1007.0,733.3 L1009.0,735.7 L1011.0,738.2 L1013.0,740.6 L1015.0,743.1 L1017.0,745.7 L1019.0,748.2 L1021.0,750.7 L1023.0,753.3 L1025.0,755.9 L1027.0,758.5 L1029.0,761.1 L1031.0,763.8 L1033.0,766.4 L1035.0,769.1 L1037.0,771.8 L1039.0,774.5 L1041.0,777.2 L1043.0,780.0 L1045.0,782.7 L1047.0,785.5 L1049.0,788.3 L1051.0,791.2 L1053.0,794.0 L1055.0,796.9 L1057.0,799.7 L1059.0,802.6 L1061.0,805.6 L1063.0,808.5 L1065.0,811.5 L1067.0,814.4 L1069.0,817.4 L1071.0,820.4 L1073.0,823.5 L1075.0,826.5 L1077.0,829.6 L1079.0,832.7 L1081.0,835.8 L1083.0,839.0 L1085.0,842.1 L1087.0,845.3 L1089.0,848.5 L1091.0,851.8 L1093.0,855.0 L1095.0,858.3 L1097.0,861.6 L1099.0,864.9 L1101.0,868.2 L1103.0,871.6 L1105.0,874.9 L1107.0,878.3 L1109.0,881.7 L1111.0,885.2 L1113.0,888.6 L1115.0,892.0 L1117.0,895.5 L1119.0,898.9 L1121.0,902.3 L1123.0,905.7 L1125.0,909.1 L1127.0,912.4 L1129.0,915.8 L1131.0,919.1 L1133.0,922.3 L1135.0,925.6 L1137.0,928.7 L1139.0,931.9 L1141.0,935.0 L1143.0,938.0 L1145.0,940.9 L1147.0,943.8 L1149.0,946.7 L1151.0,949.4 L1153.0,952.1 L1155.0,954.7 L1157.0,957.2 L1159.0,959.6 L1161.0,962.0 L1163.0,964.2 L1165.0,966.3 L1167.0,968.3 L1169.0,970.1 L1171.0,971.8 L1173.0,973.4 L1175.0,974.8 L1177.0,976.0 L1179.0,977.0 L1181.0,977.9 L1183.0,978.5 L1185.0,978.9 L1187.0,979.1 L1189.0,979.1 L1191.0,978.8 L1193.0,978.4 L1195.0,977.7 L1197.0,976.9 L1199.0,975.9 L1201.0,974.8 L1203.0,973.6 L1205.0,972.3 L1207.0,970.9 L1209.0,969.5 L1211.0,967.9 L1213.0,966.4 L1215.0,964.7 L1217.0,963.0 L1219.0,961.2 L1221.0,959.4 L1223.0,957.5 L1225.0,955.6 L1227.0,953.7 L1229.0,951.7 L1231.0,949.7 L1233.0,947.7 L1235.0,945.6 L1237.0,943.6 L1239.0,941.5 L1241.0,939.4 L1243.0,937.3 L1245.0,935.3 L1247.0,933.2 L1249.0,931.1 L1251.0,929.1 L1253.0,927.1 L1255.0,925.1 L1257.0,923.2 L1259.0,921.2 L1261.0,919.3 L1263.0,917.5 L1265.0,915.7 L1267.0,913.9 L1269.0,912.2 L1271.0,910.5 L1273.0,908.9 L1275.0,907.3 L1277.0,905.7 L1279.0,904.2 L1281.0,902.7 L1283.0,901.3 L1285.0,899.9 L1287.0,898.5 L1289.0,897.2 L1291.0,895.9 L1293.0,894.7 L1295.0,893.5 L1297.0,892.4 L1299.0,891.2 L1301.0,890.1 L1303.0,889.1 L1305.0,888.1 L1307.0,887.1 L1309.0,886.2 L1311.0,885.3 L1313.0,884.5 L1315.0,883.7 L1317.0,882.9 L1319.0,882.2 L1321.0,881.5 L1323.0,880.8 L1325.0,880.2 L1327.0,879.6 L1329.0,879.1 L1331.0,878.6 L1333.0,878.1 L1335.0,877.7 L1337.0,877.3 L1339.0,876.9 L1341.0,876.6 L1343.0,876.3 L1345.0,876.1 L1347.0,875.8 L1349.0,875.7 L1351.0,875.5 L1353.0,875.4 L1355.0,875.4 L1357.0,875.3 L1359.0,875.3 L1361.0,875.4 L1363.0,875.5 L1365.0,875.6 L1367.0,875.7 L1369.0,875.9 L1371.0,876.2 L1373.0,876.4 L1375.0,876.7 L1377.0,877.0 L1379.0,877.4 L1381.0,877.8 L1383.0,878.2 L1385.0,878.7 L1387.0,879.2 L1389.0,879.7 L1391.0,880.3 L1393.0,880.9 L1395.0,881.6 L1397.0,882.3 L1399.0,883.0 L1401.0,883.7 L1403.0,884.5 L1405.0,885.3 L1407.0,886.2 L1409.0,887.0 L1411.0,887.9 L1413.0,888.9 L1415.0,889.9 L1417.0,890.9 L1419.0,891.9 L1421.0,893.0 L1423.0,894.1 L1425.0,895.3 L1427.0,896.5 L1429.0,897.7 L1431.0,898.9 L1433.0,900.2 L1435.0,901.5 L1437.0,902.9 L1439.0,904.3 L1441.0,905.7 L1443.0,907.1 L1445.0,908.6 L1447.0,910.1 L1449.0,911.6 L1451.0,913.2 L1453.0,914.8 L1455.0,916.4 L1457.0,918.1 L1459.0,919.8 L1461.0,921.5 L1463.0,923.3 L1465.0,925.1 L1467.0,926.9 L1469.0,928.7 L1471.0,930.6 L1473.0,932.5 L1475.0,934.5 L1477.0,936.5 L1479.0,938.5 L1481.0,940.5 L1483.0,942.6 L1485.0,944.7 L1487.0,946.8 L1489.0,949.0 L1491.0,951.1 L1493.0,953.4 L1495.0,955.6 L1497.0,957.9 L1499.0,960.2 L1501.0,962.5 L1503.0,964.9 L1505.0,967.3 L1507.0,969.7 L1509.0,972.2 L1511.0,974.6 L1513.0,977.2 L1515.0,979.7 L1517.0,982.3 L1519.0,984.9 L1521.0,987.5 L1523.0,990.1 L1525.0,992.8 L1527.0,995.5 L1529.0,998.3 L1531.0,1001.0 L1533.0,1003.8 L1535.0,1006.7 L1537.0,1009.5 L1539.0,1012.4 L1541.0,1015.3 L1543.0,1018.2 L1545.0,1021.2 L1547.0,1024.2 L1549.0,1027.2 L1551.0,1030.2 L1553.0,1033.3 L1555.0,1036.4 L1557.0,1039.5 L1559.0,1042.7 L1561.0,1045.9 L1563.0,1049.1 L1565.0,1052.3 L1567.0,1055.6 L1569.0,1058.8 L1571.0,1062.1 L1573.0,1065.5 L1575.0,1068.8 L1577.0,1072.2 L1579.0,1075.6 L1581.0,1079.1 L1582.8,1082.2" fill="none" stroke="#000" stroke-width="8.5" stroke-linejoin="round"/><path d="M299.8,516.8 L301.8,517.8 L303.8,518.8 L305.8,519.8 L307.8,520.7 L309.8,521.7 L311.8,522.7 L313.8,523.7 L315.8,524.7 L317.8,525.6 L319.8,526.6 L321.8,527.6 L323.8,528.5 L325.8,529.5 L327.8,530.5 L329.8,531.4 L331.8,532.4 L333.8,533.4 L335.8,534.3 L337.8,535.3 L339.8,536.2 L341.8,537.2 L343.8,538.1 L345.8,539.1 L347.8,540.0 L349.8,541.0 L351.8,541.9 L353.8,542.9 L355.8,543.8 L357.8,544.8 L359.8,545.7 L361.8,546.6 L363.8,547.6 L365.8,548.5 L367.8,549.5 L369.8,550.4 L371.8,551.3 L373.8,552.3 L375.8,553.2 L377.8,554.1 L379.8,555.1 L381.8,556.0 L383.8,556.9 L385.8,557.8 L387.8,558.8 L389.8,559.7 L391.8,560.6 L393.8,561.5 L395.8,562.5 L397.8,563.4 L399.8,564.3 L401.8,565.2 L403.8,566.2 L405.8,567.1 L407.8,568.0 L409.8,568.9 L411.8,569.8 L413.8,570.8 L415.8,571.7 L417.8,572.6 L419.8,573.5 L421.8,574.4 L423.8,575.3 L425.8,576.3 L427.8,577.2 L429.8,578.1 L431.8,579.0 L433.8,579.9 L435.8,580.8 L437.8,581.7 L439.8,582.7 L441.8,583.6 L443.8,584.5 L445.8,585.4 L447.8,586.3 L449.8,587.2 L451.8,588.1 L453.8,589.1 L455.8,590.0 L457.8,590.9 L459.8,591.8 L461.8,592.7 L463.8,593.6 L465.8,594.6 L467.8,595.5 L469.8,596.4 L471.8,597.3 L473.8,598.2 L475.8,599.1 L477.8,600.1 L479.8,601.0 L481.8,601.9 L483.8,602.8 L485.8,603.7 L487.8,604.6 L489.8,605.6 L491.8,606.5 L493.8,607.4 L495.8,608.3 L497.8,609.3 L499.8,610.2 L501.8,611.1 L503.8,612.0 L505.8,613.0 L507.8,613.9 L509.8,614.8 L511.8,615.7 L513.8,616.7 L515.8,617.6 L517.8,618.5 L519.8,619.5 L521.8,620.4 L523.8,621.3 L525.8,622.3 L527.8,623.2 L529.8,624.1 L531.8,625.1 L533.8,626.0 L535.8,627.0 L537.8,627.9 L539.8,628.8 L541.8,629.8 L543.8,630.7 L545.8,631.7 L547.8,632.6 L549.8,633.6 L551.8,634.5 L553.8,635.5 L555.8,636.4 L557.8,637.4 L559.8,638.3 L561.8,639.3 L563.8,640.3 L565.8,641.2 L567.8,642.2 L569.8,643.2 L571.8,644.1 L573.8,645.1 L575.8,646.1 L577.8,647.0 L579.8,648.0 L581.8,649.0 L583.8,650.0 L585.8,650.9 L587.8,651.9 L589.8,652.9 L591.8,653.9 L593.8,654.9 L595.8,655.9 L597.8,656.9 L599.8,657.9 L601.8,658.9 L603.8,659.9 L605.8,660.9 L607.8,661.9 L609.8,662.9 L611.8,663.9 L613.8,664.9 L615.8,665.9 L617.8,666.9 L619.8,667.9 L621.8,668.9 L623.8,670.0 L625.8,671.0 L627.8,672.0 L629.8,673.0 L631.8,674.1 L633.8,675.1 L635.8,676.1 L637.8,677.2 L639.8,678.2 L641.8,679.3 L643.8,680.3 L645.8,681.4 L647.8,682.4 L649.8,683.5 L651.8,684.5 L653.8,685.6 L655.8,686.7 L657.8,687.7 L659.8,688.8 L661.8,689.9 L663.8,690.9 L665.8,692.0 L667.8,693.1 L669.8,694.2 L671.8,695.3 L673.8,696.4 L675.8,697.5 L677.8,698.6 L679.8,699.7 L681.8,700.8 L683.8,701.9 L685.8,703.0 L687.8,704.1 L689.8,705.2 L691.8,706.3 L693.8,707.5 L695.8,708.6 L697.8,709.7 L699.8,710.8 L701.8,712.0 L703.8,713.1 L705.8,714.3 L707.8,715.4 L709.8,716.6 L711.8,717.7 L713.8,718.9 L715.8,720.0 L717.8,721.2 L719.8,722.4 L721.8,723.6 L723.8,724.7 L725.8,725.9 L727.8,727.1 L729.8,728.3 L731.8,729.5 L733.8,730.7 L735.8,731.9 L737.8,733.1 L739.8,734.3 L741.8,735.5 L743.8,736.7 L745.8,737.9 L747.8,739.2 L749.8,740.4 L751.8,741.6 L753.8,742.9 L755.8,744.1 L757.8,745.4 L759.8,746.6 L761.8,747.9 L763.8,749.1 L765.8,750.4 L767.8,751.7 L769.8,752.9 L771.8,754.2 L773.8,755.5 L775.8,756.8 L777.8,758.1 L779.8,759.4 L781.8,760.7 L783.8,762.0 L785.8,763.3 L787.8,764.6 L789.8,765.9 L791.8,767.2 L793.8,768.6 L795.8,769.9 L797.8,771.2 L799.8,772.6 L801.8,773.9 L803.8,775.3 L805.8,776.7 L807.8,778.0 L809.8,779.4 L811.8,780.8 L813.8,782.2 L815.8,783.5 L817.8,784.9 L819.8,786.3 L821.8,787.8 L823.8,789.2 L825.8,790.6 L827.8,792.0 L829.8,793.4 L831.8,794.9 L833.8,796.3 L835.8,797.8 L837.8,799.2 L839.8,800.7 L841.8,802.2 L843.8,803.7 L845.8,805.1 L847.8,806.6 L849.8,808.1 L851.8,809.6 L853.8,811.2 L855.8,812.7 L857.8,814.2 L859.8,815.7 L861.8,817.3 L863.8,818.8 L865.8,820.4 L867.8,822.0 L869.8,823.5 L871.8,825.1 L873.8,826.7 L875.8,828.3 L877.8,829.9 L879.8,831.5 L881.8,833.1 L883.8,834.8 L885.8,836.4 L887.8,838.0 L889.8,839.7 L891.8,841.4 L893.8,843.0 L895.8,844.7 L897.8,846.4 L899.8,848.1 L901.8,849.8 L903.8,851.5 L905.8,853.3 L907.8,855.0 L909.8,856.7 L911.8,858.5 L913.8,860.2 L915.8,862.0 L917.8,863.8 L919.8,865.6 L921.8,867.4 L923.8,869.2 L925.8,871.0 L927.8,872.8 L929.8,874.7 L931.8,876.5 L933.8,878.4 L935.8,880.3 L937.8,882.1 L939.8,884.0 L941.8,885.9 L943.8,887.8 L945.8,889.8 L947.8,891.7 L949.8,893.6 L951.8,895.6 L953.8,897.5 L955.8,899.5 L957.8,901.5 L959.8,903.5 L961.8,905.5 L963.8,907.5 L965.8,909.5 L967.8,911.6 L969.8,913.6 L971.8,915.7 L973.8,917.8 L975.8,919.9 L977.8,921.9 L979.8,924.1 L981.8,926.2 L983.8,928.3 L985.8,930.4 L987.8,932.6 L989.8,934.8 L991.8,937.0 L993.8,939.1 L995.8,941.3 L997.8,943.6 L999.8,945.8 L1001.8,948.0 L1003.8,950.3 L1005.8,952.6 L1007.8,954.8 L1009.8,957.1 L1011.8,959.5 L1013.8,961.8 L1015.8,964.1 L1017.8,966.5 L1019.8,968.9 L1021.8,971.3 L1023.8,973.8 L1025.8,976.2 L1027.8,978.7 L1029.8,981.2 L1031.8,983.7 L1033.8,986.3 L1035.8,988.9 L1037.8,991.5 L1039.8,994.2 L1041.8,996.8 L1043.8,999.5 L1045.8,1002.3 L1047.8,1005.1 L1049.8,1007.9 L1051.8,1010.7 L1053.8,1013.6 L1055.8,1016.5 L1057.8,1019.5 L1059.8,1022.5 L1061.8,1025.5 L1063.8,1028.6 L1065.8,1031.7 L1067.8,1034.8 L1069.8,1038.0 L1071.8,1041.3 L1073.8,1044.5 L1075.8,1047.9 L1077.8,1051.2 L1079.8,1054.6 L1081.8,1057.9 L1083.8,1061.3 L1085.8,1064.7 L1087.8,1068.2 L1089.8,1071.6 L1091.8,1075.0 L1093.8,1078.4 L1095.8,1081.8 L1097.8,1085.2 L1099.8,1088.6 L1101.8,1092.0 L1103.8,1095.3 L1105.8,1098.6 L1107.8,1101.9 L1109.8,1105.2 L1111.8,1108.4 L1113.8,1111.5 L1115.8,1114.6 L1117.8,1117.7 L1119.8,1120.8 L1121.8,1123.8 L1123.8,1126.9 L1125.8,1129.9 L1127.8,1133.0 L1129.8,1136.0 L1131.8,1139.1 L1133.8,1142.2 L1135.8,1145.4 L1137.8,1148.5 L1139.8,1151.8 L1141.8,1155.1 L1143.8,1158.4 L1145.8,1161.9 L1147.8,1165.3 L1149.8,1168.7 L1151.8,1172.1 L1153.8,1175.4 L1155.8,1178.5 L1157.8,1181.5 L1159.8,1184.2 L1161.8,1186.7 L1163.8,1188.9 L1165.8,1190.8 L1167.8,1192.5 L1169.8,1194.0 L1171.8,1195.2 L1173.8,1196.3 L1175.8,1197.1 L1177.8,1197.7 L1179.8,1198.2 L1181.8,1198.4 L1183.8,1198.5 L1185.8,1198.5 L1187.8,1198.3 L1189.8,1197.9 L1191.8,1197.4 L1193.8,1196.8 L1195.8,1196.1 L1197.8,1195.3 L1199.8,1194.4 L1201.8,1193.4 L1203.8,1192.3 L1205.8,1191.2 L1207.8,1190.0 L1209.8,1188.8 L1211.8,1187.5 L1213.8,1186.2 L1215.8,1184.8 L1217.8,1183.4 L1219.8,1181.9 L1221.8,1180.4 L1223.8,1178.9 L1225.8,1177.4 L1227.8,1175.8 L1229.8,1174.2 L1231.8,1172.6 L1233.8,1170.9 L1235.8,1169.2 L1237.8,1167.5 L1239.8,1165.8 L1241.8,1164.1 L1243.8,1162.3 L1245.8,1160.5 L1247.8,1158.8 L1249.8,1157.0 L1251.8,1155.2 L1253.8,1153.4 L1255.8,1151.6 L1257.8,1149.8 L1259.8,1148.0 L1261.8,1146.2 L1263.8,1144.5 L1265.8,1142.7 L1267.8,1140.9 L1269.8,1139.1 L1271.8,1137.4 L1273.8,1135.7 L1275.8,1134.0 L1277.8,1132.3 L1279.8,1130.6 L1281.8,1128.9 L1283.8,1127.3 L1285.8,1125.7 L1287.8,1124.1 L1289.8,1122.6 L1291.8,1121.1 L1293.8,1119.6 L1295.8,1118.2 L1297.8,1116.8 L1299.8,1115.4 L1301.8,1114.1 L1303.8,1112.9 L1305.8,1111.6 L1307.8,1110.5 L1309.8,1109.3 L1311.8,1108.2 L1313.8,1107.2 L1315.8,1106.2 L1317.8,1105.3 L1319.8,1104.4 L1321.8,1103.5 L1323.8,1102.7 L1325.8,1101.9 L1327.8,1101.2 L1329.8,1100.5 L1331.8,1099.8 L1333.8,1099.2 L1335.8,1098.7 L1337.8,1098.2 L1339.8,1097.7 L1341.8,1097.3 L1343.8,1096.9 L1345.8,1096.5 L1347.8,1096.2 L1349.8,1096.0 L1351.8,1095.8 L1353.8,1095.6 L1355.8,1095.5 L1357.8,1095.4 L1359.8,1095.3 L1361.8,1095.3 L1363.8,1095.3 L1365.8,1095.4 L1367.8,1095.5 L1369.8,1095.7 L1371.8,1095.9 L1373.8,1096.1 L1375.8,1096.4 L1377.8,1096.7 L1379.8,1097.0 L1381.8,1097.4 L1383.8,1097.8 L1385.8,1098.3 L1387.8,1098.8 L1389.8,1099.3 L1391.8,1099.9 L1393.8,1100.5 L1395.8,1101.2 L1397.8,1101.9 L1399.8,1102.6 L1401.8,1103.4 L1403.8,1104.2 L1405.8,1105.0 L1407.8,1105.9 L1409.8,1106.8 L1411.8,1107.8 L1413.8,1108.8 L1415.8,1109.8 L1417.8,1110.9 L1419.8,1112.0 L1421.8,1113.1 L1423.8,1114.3 L1425.8,1115.5 L1427.8,1116.7 L1429.8,1118.0 L1431.8,1119.3 L1433.8,1120.6 L1435.8,1122.0 L1437.8,1123.4 L1439.8,1124.8 L1441.8,1126.3 L1443.8,1127.8 L1445.8,1129.4 L1447.8,1131.0 L1449.8,1132.6 L1451.8,1134.2 L1453.8,1135.9 L1455.8,1137.6 L1457.8,1139.3 L1459.8,1141.1 L1461.8,1142.9 L1463.8,1144.7 L1465.8,1146.6 L1467.8,1148.5 L1469.8,1150.4 L1471.8,1152.4 L1473.8,1154.4 L1475.8,1156.4 L1477.8,1158.5 L1479.8,1160.5 L1481.8,1162.6 L1483.8,1164.8 L1485.8,1167.0 L1487.8,1169.2 L1489.8,1171.4 L1491.8,1173.7 L1493.8,1175.9 L1495.8,1178.3 L1497.8,1180.6 L1499.8,1183.0 L1501.8,1185.4 L1503.8,1187.8 L1505.8,1190.3 L1507.8,1192.8 L1509.8,1195.3 L1511.8,1197.8 L1513.8,1200.4 L1515.8,1203.0 L1517.8,1205.6 L1519.8,1208.3 L1521.8,1210.9 L1523.8,1213.6 L1525.8,1216.4 L1527.8,1219.1 L1529.8,1221.9 L1531.8,1224.7 L1533.8,1227.6 L1535.8,1230.4 L1537.8,1233.3 L1539.8,1236.2 L1541.8,1239.1 L1543.8,1242.1 L1545.8,1245.1 L1547.8,1248.1 L1549.8,1251.1 L1551.8,1254.2 L1553.8,1257.2 L1555.8,1260.3 L1557.8,1263.5 L1559.8,1266.6 L1561.8,1269.8 L1563.8,1273.0 L1565.8,1276.2 L1567.8,1279.4 L1569.8,1282.7 L1571.8,1286.0 L1573.8,1289.3 L1575.8,1292.6 L1577.8,1295.9 L1579.8,1299.3 L1581.8,1302.7 L1582.1,1303.2" fill="none" stroke="#000" stroke-width="8.5" stroke-linejoin="round"/>
<g fill="#000"><rect x="291" y="109" width="8" height="1294"/><rect x="291" y="1395" width="1296" height="8"/><rect x="299" y="1317.6" width="21" height="8"/><rect x="299" y="1272.3" width="21" height="8"/><rect x="299" y="1240.2" width="21" height="8"/><rect x="299" y="1215.2" width="21" height="8"/><rect x="299" y="1194.9" width="21" height="8"/><rect x="299" y="1177.6" width="21" height="8"/><rect x="299" y="1162.7" width="21" height="8"/><rect x="299" y="1149.6" width="21" height="8"/><rect x="299" y="1137.8" width="39" height="8"/><rect x="299" y="1060.4" width="21" height="8"/><rect x="299" y="1015.1" width="21" height="8"/><rect x="299" y="983.0" width="21" height="8"/><rect x="299" y="958.0" width="21" height="8"/><rect x="299" y="937.7" width="21" height="8"/><rect x="299" y="920.4" width="21" height="8"/><rect x="299" y="905.5" width="21" height="8"/><rect x="299" y="892.4" width="21" height="8"/><rect x="299" y="880.6" width="39" height="8"/><rect x="299" y="803.2" width="21" height="8"/><rect x="299" y="757.9" width="21" height="8"/><rect x="299" y="725.8" width="21" height="8"/><rect x="299" y="700.8" width="21" height="8"/><rect x="299" y="680.5" width="21" height="8"/><rect x="299" y="663.2" width="21" height="8"/><rect x="299" y="648.3" width="21" height="8"/><rect x="299" y="635.2" width="21" height="8"/><rect x="299" y="623.4" width="39" height="8"/><rect x="299" y="546.0" width="21" height="8"/><rect x="299" y="500.7" width="21" height="8"/><rect x="299" y="468.6" width="21" height="8"/><rect x="299" y="443.6" width="21" height="8"/><rect x="299" y="423.3" width="21" height="8"/><rect x="299" y="406.0" width="21" height="8"/><rect x="299" y="391.1" width="21" height="8"/><rect x="299" y="378.0" width="21" height="8"/><rect x="299" y="366.2" width="39" height="8"/><rect x="299" y="288.8" width="21" height="8"/><rect x="299" y="243.5" width="21" height="8"/><rect x="299" y="211.4" width="21" height="8"/><rect x="299" y="186.4" width="21" height="8"/><rect x="299" y="166.1" width="21" height="8"/><rect x="299" y="148.8" width="21" height="8"/><rect x="299" y="133.9" width="21" height="8"/><rect x="299" y="120.8" width="21" height="8"/><rect x="299" y="109.0" width="39" height="8"/><rect x="393.0" y="1377" width="8" height="18"/><rect x="479.2" y="1377" width="8" height="18"/><rect x="553.9" y="1377" width="8" height="18"/><rect x="619.8" y="1377" width="8" height="18"/><rect x="1066.5" y="1377" width="8" height="18"/><rect x="1293.3" y="1377" width="8" height="18"/><rect x="1454.2" y="1377" width="8" height="18"/><rect x="1579.0" y="1377" width="8" height="18"/><rect x="678.7" y="1359" width="8" height="36"/></g>
<line x1="397" y1="96.7" x2="701" y2="218.7" stroke="#000" stroke-width="5"/>
<circle cx="983.5" cy="159.5" r="16" fill="none" stroke="#808080" stroke-width="2.8" shape-rendering="crispEdges"/><circle cx="983.5" cy="219.7" r="16" fill="none" stroke="#ff0000" stroke-width="2.8" shape-rendering="crispEdges"/><circle cx="982.5" cy="282.5" r="16" fill="none" stroke="#0000ff" stroke-width="2.8" shape-rendering="crispEdges"/>
<g font-family="'Liberation Sans', Arial, sans-serif" font-weight="bold" fill="#000"><text x="294.0" y="1455.0" font-size="51" text-anchor="middle">5</text><text x="396.0" y="1455.0" font-size="51" text-anchor="middle">6</text><text x="482.2" y="1455.0" font-size="51" text-anchor="middle">7</text><text x="556.9" y="1455.0" font-size="51" text-anchor="middle">8</text><text x="622.8" y="1455.0" font-size="51" text-anchor="middle">9</text><text x="1069.5" y="1455.0" font-size="51" text-anchor="middle">2</text><text x="1296.3" y="1455.0" font-size="51" text-anchor="middle">3</text><text x="1457.2" y="1455.0" font-size="51" text-anchor="middle">4</text><text x="1582.0" y="1455.0" font-size="51" text-anchor="middle">5</text><text transform="translate(674.5,1518.0) scale(0.93,1)" font-size="72" text-anchor="middle">0.1</text><text x="136.0" y="1437.0" font-size="73">10</text><text transform="translate(211.0,1392.5) scale(0.75,1)" font-size="51" font-weight="normal">−</text><text transform="translate(231.0,1388.2) scale(1.1,1)" font-size="48">2</text><text x="136.0" y="1179.8" font-size="73">10</text><text transform="translate(211.0,1135.3) scale(0.75,1)" font-size="51" font-weight="normal">−</text><text transform="translate(231.0,1131.0) scale(0.95,1)" font-size="48">1</text><text x="150.0" y="922.6" font-size="73">10</text><text transform="translate(227.0,874.1) scale(1.1,1)" font-size="51">0</text><text x="150.0" y="665.4" font-size="73">10</text><text transform="translate(227.0,616.9) scale(1.1,1)" font-size="51">1</text><text x="150.0" y="408.2" font-size="73">10</text><text transform="translate(227.0,359.7) scale(1.1,1)" font-size="51">2</text><text x="150.0" y="151.0" font-size="73">10</text><text transform="translate(227.0,102.5) scale(1.1,1)" font-size="51">3</text><text transform="translate(97.4,934) rotate(-90) scale(0.878,1)" font-size="100"><tspan font-style="italic">I</tspan>(<tspan font-style="italic">q</tspan>) (a.u.)</text><text transform="translate(797.0,1655.0) scale(0.9,1)" font-size="92" font-style="italic">q</text><text transform="translate(871.0,1655.0) scale(1.15,1)" font-size="92" font-weight="normal">/</text><text x="920.0" y="1655.0" font-size="92">n</text><text transform="translate(972.0,1655.0) scale(0.92,1)" font-size="92">m</text><text transform="translate(1047.0,1595.5) scale(0.62,1)" font-size="61">−</text><text x="1069.0" y="1595.5" font-size="61">1</text><text transform="translate(562.0,118.5) scale(0.98,1)" font-size="72" font-style="italic">q</text><text transform="translate(605.0,76.0) scale(0.75,1)" font-size="51" font-weight="normal">−</text><text x="618.0" y="72.7" font-size="51">2</text><text transform="translate(1059,174.3) scale(0.982,1)" font-size="54">PEG-<tspan font-style="italic">b</tspan>-P<tspan font-style="italic">t</tspan>BMA</text><text transform="translate(1059,234.4) scale(0.982,1)" font-size="54">PEG-<tspan font-style="italic">b</tspan>-P<tspan font-style="italic">t</tspan>BMA + BrBz</text><text transform="translate(1059,297.9) scale(0.982,1)" font-size="54">PEG-<tspan font-style="italic">b</tspan>-P<tspan font-style="italic">t</tspan>BMA + BrPh</text></g>
</svg>
</body></html>
